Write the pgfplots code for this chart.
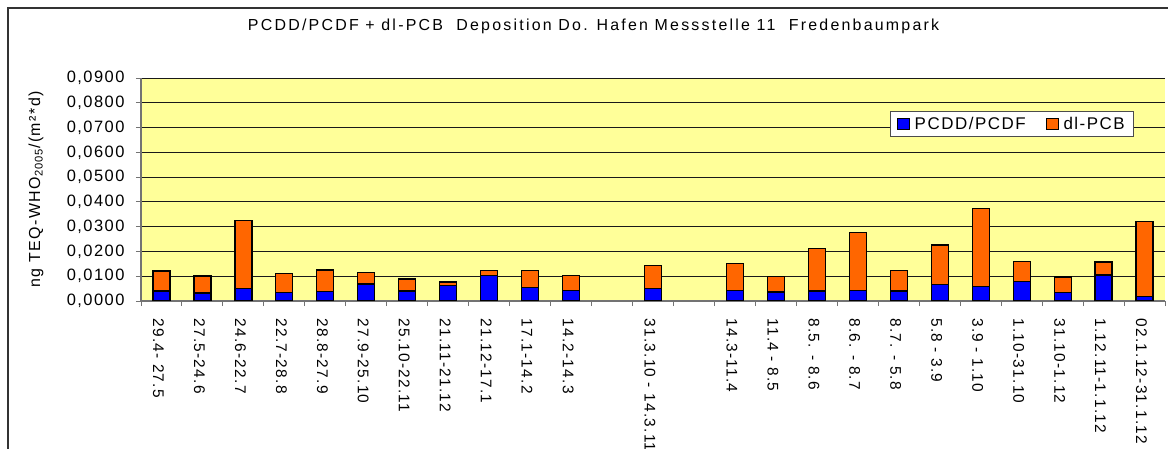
\documentclass[border=0pt]{standalone}
\usepackage{fontspec}
\setmainfont{Liberation Sans}
\newfontfamily\chartfont[LetterSpace=9]{Liberation Sans}
\newfontfamily\xfont[LetterSpace=8]{Liberation Sans}
\newfontfamily\titlefont[LetterSpace=14]{Liberation Sans}
\usepackage{pgfplots}
\pgfplotsset{compat=1.18}
\definecolor{bgyellow}{HTML}{FFFF99}
\definecolor{barblue}{HTML}{0000FF}
\definecolor{barorange}{HTML}{FF6600}
\begin{document}
\begin{tikzpicture}
\useasboundingbox (0,0) rectangle (1168bp,449bp);
\clip (0,0) rectangle (1168bp,449bp);
\draw[line width=1.5bp, black!80] (8bp,0) -- (8bp,441bp) -- (1168bp,441bp);
\begin{axis}[
  at={(141bp,148bp)}, anchor=south west,
  scale only axis, width=1024bp, height=223bp,
  xmin=-0.5, xmax=24.5, ymin=0, ymax=0.09,
  axis background/.style={fill=bgyellow},
  axis x line=bottom, axis y line=left,
  axis line style={-, draw=black!55, line width=1.2bp},
  ybar stacked, bar width=17bp,
  xtick={0,...,24},
  xticklabels={29.4- 27.5, 27.5-24.6, 24.6-22.7, 22.7-28.8, 28.8-27.9, 27.9-25.10, 25.10-22.11, 21.11-21.12, 21.12-17.1, 17.1-14.2, 14.2-14.3, {}, 31.3.10 - 14.3.11, {}, 14.3-11.4, 11.4 - 8.5, 8.5. - 8.6, 8.6. - 8.7, 8.7. - 5.8, 5.8 - 3.9, 3.9 - 1.10, 1.10-31.10, 31.10-1.12, 1.12.11-1.1.12, 02.1.12-31.1.12},
  major x tick style={draw=none},
  minor xtick={-0.5,0.5,...,24.5},
  minor x tick style={draw=black!55, line width=1bp},
  tick align=outside,
  minor tick length=5bp, major tick length=5bp,
  ytick={0,0.01,...,0.09},
  ymajorgrids, grid style={black!90, line width=0.9bp},
  y tick style={draw=black!55, line width=1bp},
  /pgf/number format/.cd, fixed, fixed zerofill, precision=4, use comma, assume math mode=true,
  /pgfplots/.cd,
  yticklabel style={font=\chartfont\fontsize{16.5}{19}\selectfont, xshift=-8bp},
  scaled y ticks=false,
  xticklabel style={font=\xfont\fontsize{15.5}{19}\selectfont, rotate=-90, anchor=west, xshift=9bp, yshift=-3bp},
  ylabel={ng TEQ-WHO\textsubscript{2005}/(m²*d)},
  ylabel style={font=\chartfont\fontsize{16}{19}\selectfont, at={(axis description cs:-0.1025,0.5)}, anchor=center, rotate=0},
  title={PCDD/PCDF + dl-PCB\ \ Deposition Do. Hafen Messstelle 11\ \ Fredenbaumpark},
  title style={font=\titlefont\fontsize{16}{19}\selectfont, at={(axis description cs:0.442,1.206)}, anchor=center, yshift=0pt},
  legend style={at={(axis description cs:0.731,0.852)}, anchor=north west, legend columns=2, draw=black!70, line width=0.8bp, fill=white, font=\chartfont\fontsize{17}{20}\selectfont, inner xsep=7bp, inner ysep=3.5bp, /tikz/every even column/.append style={column sep=18bp}, /tikz/every odd column/.append style={column sep=3bp}},
  legend image code/.code={\draw[#1,draw=black,line width=0.8bp] (0bp,-5.5bp) rectangle (12bp,5.5bp);},
]
\addplot[fill=barblue, draw=black, line width=1.2bp] coordinates {
(0,0.0040) (1,0.0032) (2,0.0051) (3,0.0035) (4,0.0038) (5,0.0069) (6,0.0040) (7,0.0062) (8,0.0104) (9,0.0055) (10,0.0042)
(12,0.0051) (14,0.0042) (15,0.0036) (16,0.0040) (17,0.0043) (18,0.0040) (19,0.0067) (20,0.0058) (21,0.0078) (22,0.0035) (23,0.0105) (24,0.0017)};
\addlegendentry{PCDD/PCDF}
\addplot[fill=barorange, draw=black, line width=1.2bp] coordinates {
(0,0.0081) (1,0.0069) (2,0.0273) (3,0.0077) (4,0.0087) (5,0.0047) (6,0.0049) (7,0.0015) (8,0.0018) (9,0.0067) (10,0.0060)
(12,0.0091) (14,0.0110) (15,0.0062) (16,0.0171) (17,0.0234) (18,0.0082) (19,0.0159) (20,0.0314) (21,0.0083) (22,0.0062) (23,0.0052) (24,0.0304)};
\addlegendentry{dl-PCB}
\end{axis}
\end{tikzpicture}
\end{document}
